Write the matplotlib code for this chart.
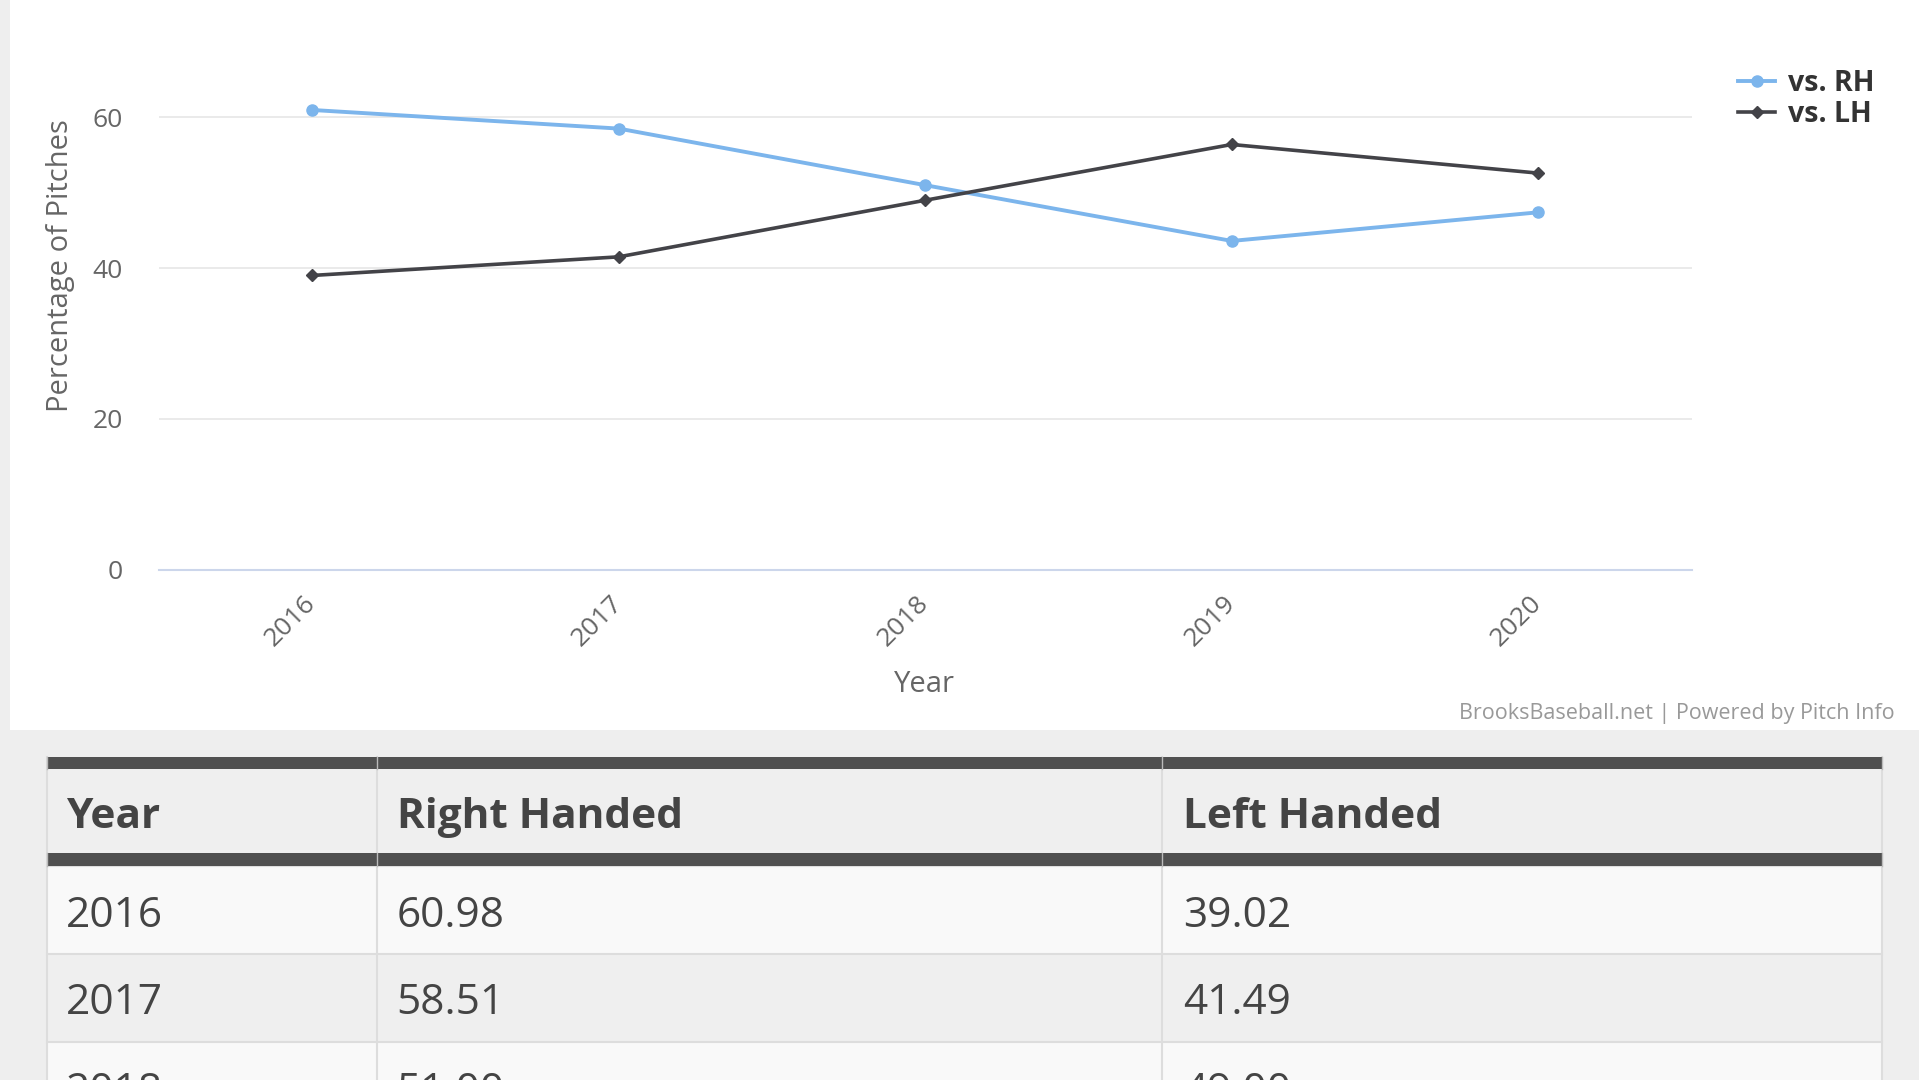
import matplotlib
matplotlib.use("Agg")
import matplotlib.pyplot as plt
from matplotlib.patches import Rectangle

plt.rcParams['font.family'] = ['Open Sans', 'DejaVu Sans']

# ---- data ----
years = ["2016", "2017", "2018", "2019", "2020"]
vs_rh = [60.98, 58.51, 51.00, 43.6, 47.4]
vs_lh = [39.02, 41.49, 49.00, 56.4, 52.6]
y_ticks = [0, 20, 40, 60]
series_names = ["vs. RH", "vs. LH"]
table_headers = ["Year", "Right Handed", "Left Handed"]
credits = "BrooksBaseball.net | Powered by Pitch Info"

W, H = 1919, 1080
fig = plt.figure(figsize=(W / 100, H / 100), dpi=100, facecolor="#eeeeee")

# background canvas in pixel coordinates
bg = fig.add_axes([0, 0, 1, 1], zorder=0)
bg.set_xlim(0, W)
bg.set_ylim(H, 0)
bg.axis("off")
bg.add_patch(Rectangle((10, 0), W - 10, 730, facecolor="white", edgecolor="none"))

# ---- chart axes ----
x_left, x_right = 159, 1691.5
y_zero, y_top = 569.5, 42.0
ax = fig.add_axes([x_left / W, 1 - y_zero / H, (x_right - x_left) / W, (y_zero - y_top) / H], zorder=2)
ax.set_facecolor("none")
xs = list(range(len(years)))
ax.plot(xs, vs_rh, color="#7cb5ec", lw=2.8, marker="o", ms=8, label=series_names[0], zorder=3,
        solid_joinstyle="round")
ax.plot(xs, vs_lh, color="#434348", lw=2.6, marker="D", ms=6, label=series_names[1], zorder=4,
        solid_joinstyle="round")
ax.set_xlim(-0.5, len(years) - 0.5)
ax.set_ylim(0, 70)
ax.set_yticks(y_ticks)
ax.set_xticks(xs)
ax.set_xticklabels(years, rotation=45, ha="right", va="center", rotation_mode="anchor")
ax.tick_params(axis="both", length=0, labelcolor="#666666", labelsize=19)
ax.tick_params(axis="y", pad=26)
ax.tick_params(axis="x", pad=22)
ax.grid(axis="y", color="#e6e6e6", lw=1.2)
ax.set_axisbelow(True)
for s in ["top", "right", "left"]:
    ax.spines[s].set_visible(False)
ax.spines["bottom"].set_color("#ccd6eb")
ax.spines["bottom"].set_linewidth(1.5)

ax.set_ylabel("Percentage of Pitches", color="#666666", fontsize=21, va="center", ha="center")
ax.yaxis.set_label_coords(61, 265.5, transform=bg.transData)
ax.set_xlabel("Year", color="#666666", fontsize=21, va="center", ha="center")
ax.xaxis.set_label_coords(924, 684, transform=bg.transData)

leg = fig.legend(loc="center left", bbox_to_anchor=(1738 / W, 1 - 99 / H), frameon=False,
                 prop={"weight": "bold", "size": 20.5}, handlelength=1.3, handletextpad=0.45,
                 labelspacing=0.1, borderpad=0, borderaxespad=0)
for t in leg.get_texts():
    t.set_color("#333333")

bg.text(1895, 713.5, credits, ha="right", va="center", color="#999999", fontsize=15.5, zorder=3)

# ---- table ----
col_x = [46.7, 376.7, 1161.7, 1882]
bar_col = "#505050"
border = "#dddddd"
bg.add_patch(Rectangle((col_x[0], 757.3), col_x[-1] - col_x[0], 12, facecolor=bar_col, edgecolor="none", zorder=2))
bg.add_patch(Rectangle((col_x[0], 769.3), col_x[-1] - col_x[0], 84, facecolor="#efefef", edgecolor="none", zorder=1))
bg.add_patch(Rectangle((col_x[0], 853.3), col_x[-1] - col_x[0], 12.7, facecolor=bar_col, edgecolor="none", zorder=2))
row_tops = [866, 953.5, 1041.7]
row_h = 88
rows_years = years[:3]
for i, top in enumerate(row_tops):
    fc = "#f9f9f9" if i % 2 == 0 else "#efefef"
    bg.add_patch(Rectangle((col_x[0], top), col_x[-1] - col_x[0], row_h, facecolor=fc, edgecolor="none", zorder=1))
    bg.plot([col_x[0], col_x[-1]], [top, top], color=border, lw=1.5, zorder=1.5)
for cx in col_x:
    bg.plot([cx, cx], [757.3, H], color=border, lw=1.5, zorder=1.5)
    bg.plot([cx, cx], [757.3, 769.3], color="#bbbbbb", lw=1.0, zorder=2.5)
    bg.plot([cx, cx], [853.3, 866], color="#bbbbbb", lw=1.0, zorder=2.5)

text_x = [66, 396.7, 1183]
tcol = "#444444"
for j, h in enumerate(table_headers):
    bg.text(text_x[j], 828.3, h, ha="left", va="baseline", fontsize=30.5, fontweight="bold", color=tcol, zorder=3)
for i, top in enumerate(row_tops):
    vals = [rows_years[i], f"{vs_rh[i]:.2f}", f"{vs_lh[i]:.2f}"]
    for j, v in enumerate(vals):
        bg.text(text_x[j], top + 61, v, ha="left", va="baseline", fontsize=30.5, color=tcol, zorder=3)

fig.savefig("out.png", dpi=100, facecolor=fig.get_facecolor())
